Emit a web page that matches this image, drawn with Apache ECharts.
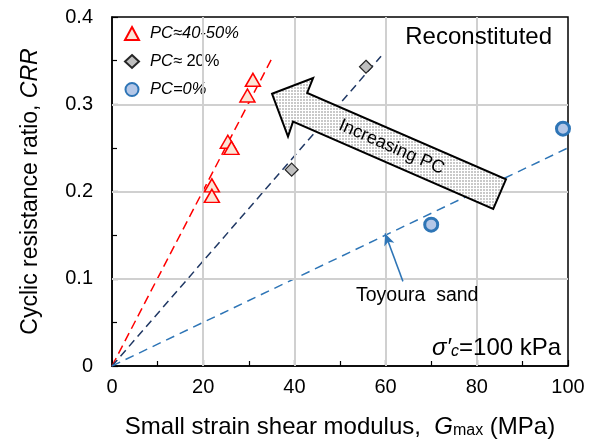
<!DOCTYPE html>
<html>
<head>
<meta charset="utf-8">
<script src="https://cdn.jsdelivr.net/npm/echarts@6/dist/echarts.min.js"></script>
<style>
  html, body { margin: 0; padding: 0; background: #fff; }
  #chart { width: 598px; height: 444px; }
</style>
</head>
<body>
<div id="chart"></div>
<script>
// data: [Gmax (MPa), CRR]
const pc4050 = [[21.9, 0.207], [21.9, 0.195], [25.4, 0.257], [26.2, 0.250], [29.7, 0.310], [30.9, 0.328]];
const pc20 = [[39.4, 0.225], [55.7, 0.343]];
const pc0 = [[70.0, 0.162], [98.9, 0.272]];

// dashed trend lines through the origin
const trend4050 = [[0, 0], [35.3, 0.355]];
const trend20 = [[0, 0], [59.0, 0.355]];
const trendToyoura = [[0, 0], [100, 0.25]];

// leader arrow for "Toyoura sand" (from label to line)
const toyouraLeader = [[63.8, 0.097], [59.9, 0.152]];

// block arrow "Increasing PC", outline in data units
const bigArrow = [[35.1, 0.312], [44.1, 0.330], [42.8, 0.313], [86.4, 0.214],
                  [83.6, 0.180], [39.7, 0.280], [38.6, 0.263]];

const xTicks = [0, 20, 40, 60, 80, 100];
const yTicks = [0, 0.1, 0.2, 0.3, 0.4];
// interior gridlines
const xGrid = [20, 40, 60, 80];
const yGrid = [0.1, 0.2, 0.3];

const FONT = 'Liberation Sans, Arial, sans-serif';

let chart = echarts.init(document.getElementById('chart'));

// dotted fill, like the arrow in the figure
function makePattern() {
    let c = document.createElement('canvas');
    c.width = 3; c.height = 3;
    let ctx = c.getContext('2d');
    ctx.fillStyle = '#ffffff';
    ctx.fillRect(0, 0, 3, 3);
    ctx.fillStyle = '#c9c9c9';
    ctx.fillRect(0, 0, 2, 2);
    return c;
}

let gridMarks = xGrid.map(function (v) { return { xAxis: v }; })
    .concat(yGrid.map(function (v) { return { yAxis: v }; }));

let option = {
    animation: false,
    textStyle: { fontFamily: FONT },
    grid: {
        left: 112, right: 30, top: 17, bottom: 76,
        show: true, backgroundColor: 'transparent', borderColor: '#000', borderWidth: 1.5
    },
    legend: {
        data: ['PC≈40-50%', 'PC≈20%', 'PC=0%'],
        orient: 'vertical',
        left: 119, top: 21,
        padding: [4, 4, 4, 5],
        itemGap: 11,
        itemWidth: 14, itemHeight: 13,
        formatter: function (name) {
            if (name === 'PC≈40-50%') return '{i|PC≈40-50%}';
            if (name === 'PC≈20%') return '{i|PC≈} {n|20%}';
            return '{i|PC=0%}';
        },
        textStyle: {
            fontFamily: FONT, fontSize: 16, color: '#000', padding: [0, 0, 0, 6],
            rich: {
                i: { fontStyle: 'italic', fontSize: 16.5, fontFamily: FONT },
                n: { fontSize: 16.5, fontFamily: FONT }
            }
        }
    },
    xAxis: {
        type: 'value', min: 0, max: 100, interval: 20,
        name: 'Small strain shear modulus,  {i|G}{s|max} (MPa)',
        nameLocation: 'middle', nameGap: 49,
        nameTextStyle: {
            fontSize: 24, color: '#000', fontFamily: FONT,
            rich: {
                i: { fontSize: 24, fontStyle: 'italic', fontFamily: FONT },
                s: { fontSize: 16, fontFamily: FONT, verticalAlign: 'bottom', lineHeight: 14 }
            }
        },
        axisLine: { lineStyle: { color: '#000', width: 1.5 } },
        axisTick: { inside: true, length: 6, lineStyle: { color: '#000', width: 1.2 } },
        minorTick: { show: true, splitNumber: 2, length: 5, lineStyle: { color: '#000', width: 1.2 } },
        splitLine: { show: false },
        axisLabel: {
            fontSize: 20, color: '#000', margin: 11, fontFamily: FONT,
            formatter: function (v) { return xTicks.indexOf(v) >= 0 ? String(v) : ''; }
        }
    },
    yAxis: {
        type: 'value', min: 0, max: 0.4, interval: 0.1,
        name: 'Cyclic resistance ratio, {i|CRR}',
        nameLocation: 'middle', nameGap: 70, nameRotate: 90,
        nameTextStyle: {
            fontSize: 23, color: '#000', fontFamily: FONT,
            rich: { i: { fontSize: 23, fontStyle: 'italic', fontFamily: FONT } }
        },
        axisLine: { lineStyle: { color: '#000', width: 1.5 } },
        axisTick: { inside: true, length: 6, lineStyle: { color: '#000', width: 1.2 } },
        minorTick: { show: true, splitNumber: 2, length: 5, lineStyle: { color: '#000', width: 1.2 } },
        splitLine: { show: false },
        axisLabel: {
            fontSize: 20, color: '#000', margin: 19, fontFamily: FONT,
            formatter: function (v) {
                let t = yTicks.find(function (k) { return Math.abs(k - v) < 1e-9; });
                return t === undefined ? '' : (t === 0 ? '0' : t.toFixed(1));
            }
        }
    },
    series: [
        {
            // carries the light gray gridlines
            name: 'gridlines', type: 'scatter', data: [], z: 1, silent: true,
            markLine: {
                silent: true, symbol: ['none', 'none'], label: { show: false },
                lineStyle: { color: '#d0d0d0', width: 2, type: 'solid' },
                emphasis: { disabled: true },
                data: gridMarks
            }
        },
        {
            name: 'trend 40-50', type: 'line', data: trend4050, symbol: 'none',
            lineStyle: { color: '#ff0000', width: 1.5, type: [9, 5] }, z: 2
        },
        {
            name: 'trend 20', type: 'line', data: trend20, symbol: 'none',
            lineStyle: { color: '#203864', width: 1.5, type: [8, 5] }, z: 2
        },
        {
            name: 'trend toyoura', type: 'line', data: trendToyoura, symbol: 'none',
            lineStyle: { color: '#2e75b6', width: 1.5, type: [9, 6] }, z: 2,
            markLine: {
                silent: true, symbol: ['none', 'arrow'], symbolSize: [8, 12],
                label: { show: false },
                lineStyle: { color: '#2e75b6', type: 'solid', width: 1.5 },
                data: [[{ coord: toyouraLeader[0] }, { coord: toyouraLeader[1] }]]
            }
        },
        {
            name: 'PC≈40-50%', type: 'scatter', data: pc4050,
            symbol: 'triangle', symbolSize: [15, 13],
            itemStyle: { color: '#fbe5d6', borderColor: '#ff0000', borderWidth: 1.5, opacity: 1 },
            z: 5
        },
        {
            name: 'PC≈20%', type: 'scatter', data: pc20,
            symbol: 'diamond', symbolSize: [13, 13],
            itemStyle: { color: '#bfbfbf', borderColor: '#262626', borderWidth: 1.2, opacity: 1 },
            z: 5
        },
        {
            name: 'PC=0%', type: 'scatter', data: pc0,
            symbol: 'circle', symbolSize: 13,
            itemStyle: { color: '#b4c7e7', borderColor: '#2e75b6', borderWidth: 3, opacity: 1 },
            z: 5
        }
    ]
};

chart.setOption(option);

// annotations placed through the grid's own scale
let arrowPts = bigArrow.map(function (p) { return chart.convertToPixel({ gridIndex: 0 }, p); });
let a = arrowPts[2], b = arrowPts[3];
let ang = Math.atan2(b[1] - a[1], b[0] - a[0]);
let mid = chart.convertToPixel({ gridIndex: 0 }, [61.3, 0.251]);
let recon = chart.convertToPixel({ gridIndex: 0 }, [96.5, 0.377]);
let sigma = chart.convertToPixel({ gridIndex: 0 }, [98.5, 0.007]);
let toy = chart.convertToPixel({ gridIndex: 0 }, [53.5, 0.081]);

chart.setOption({
    graphic: [
        {
            type: 'polygon', z: 10,
            shape: { points: arrowPts },
            style: { fill: { image: makePattern(), repeat: 'repeat' }, stroke: '#000', lineWidth: 2 }
        },
        {
            type: 'text', z: 11, x: mid[0], y: mid[1], rotation: -ang,
            style: {
                text: 'Increasing PC', fontSize: 18, fontFamily: FONT, fill: '#000',
                align: 'center', verticalAlign: 'middle'
            }
        },
        {
            type: 'text', z: 11, x: recon[0], y: recon[1],
            style: {
                text: 'Reconstituted', fontSize: 24, fontFamily: FONT, fill: '#000',
                align: 'right', verticalAlign: 'middle'
            }
        },
        {
            type: 'text', z: 11, x: toy[0], y: toy[1],
            style: {
                text: 'Toyoura  sand', fontSize: 19.5, fontFamily: FONT, fill: '#000',
                align: 'left', verticalAlign: 'middle'
            }
        },
        {
            type: 'text', z: 11, x: sigma[0], y: sigma[1],
            style: {
                text: '{i|σ′}{s|c}{n|=100 kPa}', fontFamily: FONT, fill: '#000',
                align: 'right', verticalAlign: 'bottom',
                rich: {
                    i: { fontSize: 24, fontStyle: 'italic', fontFamily: FONT },
                    s: { fontSize: 16, fontStyle: 'italic', fontFamily: FONT, verticalAlign: 'bottom', lineHeight: 14 },
                    n: { fontSize: 24, fontFamily: FONT }
                }
            }
        }
    ]
});
</script>
</body>
</html>
